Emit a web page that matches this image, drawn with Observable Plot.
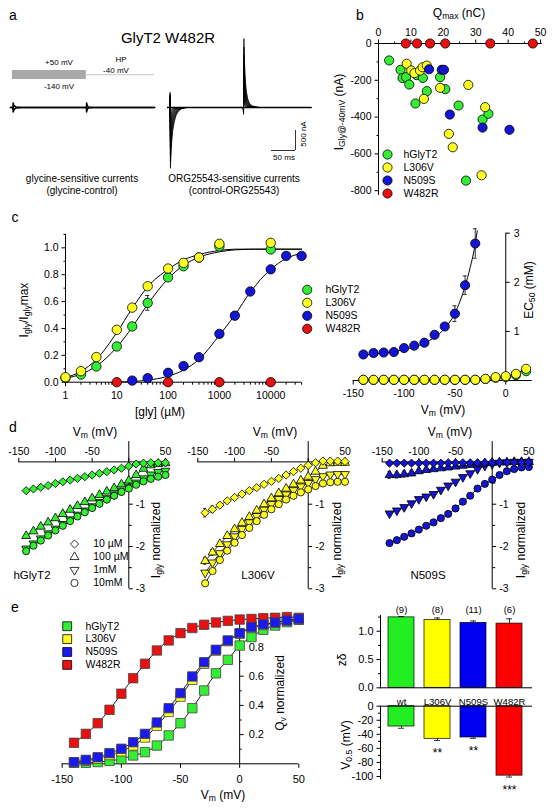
<!DOCTYPE html>
<html><head><meta charset="utf-8">
<script src="https://cdn.jsdelivr.net/npm/d3@7"></script>
<script src="https://cdn.jsdelivr.net/npm/@observablehq/plot@0.6"></script>
<style>
html,body{margin:0;padding:0;background:#fff;}
#root{position:relative;width:555px;height:810px;overflow:hidden;font-family:Arial,"Liberation Sans",Helvetica,sans-serif;color:#000;background:#fff;}
#root svg{position:absolute;left:0;top:0;overflow:visible;background:transparent !important;max-width:none !important;}
.lbl{position:absolute;white-space:nowrap;line-height:1;}
.sub{font-size:0.72em;vertical-align:-0.3em;}
</style></head><body><div id="root"></div>
<script>
// ---------------- DATA ----------------
const seriesNames = ["hGlyT2","L306V","N509S","W482R"];
const dotColors = ["#33ee33","#ffff22","#1414d4","#e81010"];
const barColors = ["#22ee22","#ffff00","#0000f0","#ff0000"];

// panel a (trace family, nA)
const onPeaks  = [-1520,-1340,-1170,-1010,-860,-720,-590,-470,-360,-260,-170,-90];
const offPeaks = [1720,1510,1310,1120,950,790,650,520,400,290,190,100];
const tauScale = [1.0,0.97,0.94,0.91,0.88,0.85,0.82,0.79,0.76,0.73,0.7,0.67];
const tShape   = [0,0.5,1.2,2.5,4,6,9,13,18,25,35];
const onShape  = [0,-0.25,1,0.75,0.55,0.38,0.24,0.13,0.06,0.02,0];
const offShape = [0,-0.1,1,0.65,0.42,0.25,0.13,0.06,0.025,0.008,0];
const leftOn = [-110, 110], leftOff = [110, -110];

// panel b
const qG = [3.3,6.8,7.4,8.5,9.5,11.8,13.7,11.4,14.9,19.0,20.6,24.7,32.1,33.9,27.0];
const iG = [-92,-143,-188,-183,-223,-172,-187,-326,-259,-183,-248,-337,-413,-382,-745];
const qL = [8.7,10.1,11.1,12.8,13.6,14.9,14.0,19.0,27.7,21.7,22.9,32.9,31.8];
const iL = [-110,-147,-161,-147,-129,-120,-301,-241,-225,-491,-564,-346,-716];
const qN = [15.6,19.5,20.2,22.0,32.1,40.4];
const iN = [-140,-143,-143,-386,-457,-469];
const qR = [8.4,11.9,15.9,20.6,34.5,47.6];
const iR = [0,0,0,0,0,0];
const tickBX = [0,10,20,30,40,50];
const tickBY = [0,-200,-400,-600,-800];

// panel c left
const conc = [1,2,4,10,20,40,100,200,400,1000,10000];
const crG = [0.032,0.057,0.117,0.266,0.415,0.59,0.78,0.863,0.928,1.01,0.988];
const crGe = [0,0,0,0.02,0.02,0.055,0.02,0.01,0.01,0.01,0.01];
const crL = [0.037,0.082,0.187,0.39,0.555,0.714,0.846,0.888,0.928,1.03,1.037];
const crLe = [0,0,0,0.025,0.02,0.02,0.02,0.01,0.01,0.01,0.01];
const concN = [20,40,100,200,400,1000,2000,4000,10000,20000,40000];
const crN = [0.012,0.03,0.07,0.12,0.186,0.36,0.495,0.675,0.84,0.94,0.94];
const concR = [10,100,1000,10000];
const crR = [0,0,0,0];
const fitConc = [1,2,4,10,20,40,100,200,400,1000,2000,5000,10000,40000];
const fitG = [0.03,0.06,0.12,0.26,0.41,0.58,0.77,0.87,0.93,0.97,0.985,0.99,0.99,0.99];
const fitL = [0.035,0.08,0.17,0.37,0.55,0.71,0.84,0.91,0.95,0.98,0.99,0.99,0.99,0.99];
const fitConcN = [10,20,40,100,200,400,1000,2000,4000,10000,20000,40000];
const fitN = [0.002,0.005,0.015,0.045,0.09,0.17,0.35,0.50,0.67,0.84,0.92,0.96];
const tickCX = [1,10,100,1000,10000];
const tickCY = [0,0.2,0.4,0.6,0.8,1.0];

// panel c right (EC50, mM)
const vmN = [-140,-130,-120,-110,-100,-90,-80,-70,-60,-50,-40,-30];
const ecN = [0.53,0.56,0.57,0.58,0.66,0.71,0.77,0.93,1.10,1.36,1.94,2.79];
const ecNe = [0.02,0.02,0.02,0.02,0.03,0.03,0.03,0.04,0.06,0.16,0.19,0.30];
const fitVmN = [-140,-120,-100,-80,-70,-60,-50,-40,-35,-30,-28];
const fitEcN = [0.52,0.56,0.63,0.76,0.88,1.06,1.37,1.92,2.30,2.78,3.05];
const vmL = [-140,-130,-120,-110,-100,-90,-80,-70,-60,-50,-40,-30,-20,-10,0,10,20];
const ecL = [0.015,0.015,0.015,0.015,0.015,0.015,0.015,0.015,0.015,0.015,0.015,0.015,0.034,0.068,0.088,0.136,0.238];
const ecG = [0.012,0.012,0.012,0.012,0.012,0.012,0.012,0.012,0.012,0.012,0.012,0.012,0.03,0.055,0.07,0.11,0.19];
const tickC2X = [-150,-100,-50,0];
const tickC2Y = [1,2,3];

// panel d (I-V, normalized)
const vm20 = [-140,-130,-120,-110,-100,-90,-80,-70,-60,-50,-40,-30,-20,-10,0,10,20,30,40,50];
const ivLegend = ["10 µM","100 µM","1mM","10mM"];
const g10  = [-0.68,-0.64,-0.60,-0.56,-0.51,-0.47,-0.43,-0.39,-0.35,-0.31,-0.27,-0.23,-0.19,-0.15,-0.10,-0.05,-0.03,-0.02,-0.02,-0.02];
const g100 = [-1.75,-1.64,-1.53,-1.43,-1.33,-1.23,-1.13,-1.04,-0.95,-0.86,-0.78,-0.70,-0.62,-0.53,-0.44,-0.31,-0.16,-0.08,-0.05,-0.03];
const g1m  = [-2.05,-1.93,-1.81,-1.69,-1.58,-1.47,-1.36,-1.25,-1.15,-1.05,-0.95,-0.86,-0.77,-0.68,-0.59,-0.49,-0.39,-0.30,-0.24,-0.21];
const g10m = [-2.11,-1.98,-1.86,-1.74,-1.62,-1.51,-1.40,-1.29,-1.19,-1.09,-0.99,-0.89,-0.80,-0.71,-0.63,-0.54,-0.46,-0.40,-0.35,-0.31];
const l10  = [-1.20,-1.12,-1.02,-0.92,-0.84,-0.76,-0.68,-0.61,-0.53,-0.46,-0.39,-0.31,-0.23,-0.15,-0.08,-0.02,0.02,0.02,0.02,0.01];
const l10e = [0.10,0.08,0.06,0.05,0.04,0.03,0.03,0.02,0.02,0.02,0.02,0.02,0.01,0.01,0.01,0.01,0.01,0.01,0.01,0.01];
const l100 = [-2.34,-2.14,-1.94,-1.75,-1.59,-1.44,-1.30,-1.15,-1.00,-0.86,-0.74,-0.63,-0.53,-0.44,-0.35,-0.23,-0.09,-0.03,-0.02,-0.02];
const l100e= [0.08,0.07,0.06,0.05,0.04,0.03,0.03,0.02,0.02,0.02,0.02,0.02,0.01,0.01,0.01,0.01,0.01,0.01,0.01,0.01];
const l1m  = [-2.62,-2.38,-2.16,-1.95,-1.76,-1.59,-1.43,-1.28,-1.13,-1.00,-0.88,-0.77,-0.67,-0.58,-0.50,-0.41,-0.34,-0.30,-0.29,-0.29];
const l10m = [-2.87,-2.58,-2.32,-2.10,-1.91,-1.73,-1.56,-1.40,-1.25,-1.12,-1.00,-0.89,-0.80,-0.72,-0.65,-0.57,-0.51,-0.48,-0.47,-0.47];
const n10  = [-0.03,-0.03,-0.03,-0.03,-0.03,-0.03,-0.03,-0.03,-0.02,-0.02,-0.02,-0.02,-0.02,-0.02,-0.01,-0.01,-0.01,-0.01,-0.01,-0.01];
const n100 = [-0.31,-0.31,-0.29,-0.27,-0.22,-0.19,-0.17,-0.15,-0.13,-0.11,-0.09,-0.07,-0.05,-0.03,-0.02,-0.01,-0.01,0,0,0];
const n100e= [0.08,0.07,0.07,0.06,0.05,0.04,0.03,0.03,0.02,0.02,0.01,0.01,0.01,0.01,0.01,0.01,0.01,0.01,0.01,0.01];
const n1m  = [-1.22,-1.15,-1.07,-0.98,-0.88,-0.82,-0.76,-0.66,-0.56,-0.47,-0.36,-0.27,-0.17,-0.09,-0.05,-0.02,-0.01,0,0,0];
const n10m = [-1.92,-1.85,-1.77,-1.69,-1.60,-1.51,-1.43,-1.33,-1.23,-1.10,-0.94,-0.80,-0.63,-0.52,-0.42,-0.31,-0.22,-0.17,-0.13,-0.12];
const zeros20 = [0,0,0,0,0,0,0,0,0,0,0,0,0,0,0,0,0,0,0,0];
const tickDX = [-150,-100,-50,50];
const tickDY = [-1,-2,-3];

// panel e (Qv normalized)
const qvG = [0.007,0.007,0.012,0.02,0.033,0.057,0.08,0.125,0.194,0.278,0.381,0.502,0.62,0.712,0.81,0.868,0.918,0.947,0.97,0.986];
const qvL = [0.008,0.02,0.035,0.06,0.085,0.125,0.18,0.26,0.355,0.46,0.575,0.685,0.775,0.84,0.89,0.93,0.95,0.965,0.98,0.99];
const qvN = [0.011,0.027,0.045,0.073,0.103,0.148,0.205,0.283,0.381,0.484,0.598,0.696,0.781,0.845,0.895,0.936,0.955,0.968,0.982,0.993];
const qvR = [0.144,0.205,0.278,0.37,0.48,0.586,0.685,0.776,0.845,0.895,0.93,0.952,0.968,0.979,0.988,0.992,0.997,1.0,1.005,1.0];
const qvRe = [0.025,0.025,0.025,0.025,0.02,0.015,0.01,0.01,0.01,0.01,0.01,0.01,0.01,0.01,0.01,0.01,0.01,0.01,0.01,0.01];
const tickEX = [-150,-100,-50,0,50];
const tickEY = [0.2,0.4,0.6,0.8];

// bars
const cats = ["wt","L306V","N509S","W482R"];
const zdelta = [1.245,1.20,1.147,1.135];
const zdeltaErr = [0.015,0.035,0.035,0.085];
const nCells = ["(9)","(8)","(11)","(6)"];
const v05 = [-28.9,-46.4,-44.5,-98.8];
const v05Err = [2.5,2.5,1.2,2.0];
const sig = ["","**","**","***"];
const tickZ = [0,0.5,1.0];
const tickV = [0,-20,-40,-60,-80,-100];

// ---------------- HELPERS ----------------
const W = 555, H = 810;
const FONT = 'Arial, "Liberation Sans", Helvetica, sans-serif';
const TS = 10.5;
const root = document.getElementById("root");
const fmt0 = d => String(d);
const fmt1 = d => d.toFixed(1);
const tk = (dx, dy) => ({draw(c){ c.moveTo(0,0); c.lineTo(dx,dy); }});
const invTri = {draw(c, size){ const s3 = Math.sqrt(3); const y = Math.sqrt(size/(s3*3)); c.moveTo(0, y*2); c.lineTo(-s3*y, -y); c.lineTo(s3*y, -y); c.closePath(); }};

function page(opts){
  const o = Object.assign({width:W, height:H, margin:0,
    style:{background:"transparent", fontFamily:FONT, fontSize:TS+"px", overflow:"visible"},
    color:{type:"identity"}}, opts);
  o.x = Object.assign({}, opts.x, {axis:null});
  o.y = Object.assign({}, opts.y, {axis:null});
  const svg = Plot.plot(o);
  root.append(svg);
  return svg;
}
function lbl(html, x, y, o = {}){
  const d = document.createElement("div");
  d.className = "lbl";
  d.innerHTML = html;
  d.style.fontSize = (o.size || 12) + "px";
  d.style.left = x + "px"; d.style.top = y + "px";
  const tx = (o.anchor || "middle") === "middle" ? "-50%" : (o.anchor === "start" ? "0" : "-100%");
  d.style.transform = `translate(${tx},-50%) rotate(${o.rot || 0}deg)`;
  root.append(d);
}
const S = "<span class='sub'>", E = "</span>";
const rows = (xs, ys, es) => xs.map((x,i) => ({x, y: ys[i], e: es ? es[i] : 0}));
const K = {stroke:"black", strokeWidth:1, fill:"none"};

// ---------------- PANEL a ----------------
const ON = 5, OFF = 158, DUR = 300, RIGHT0 = 327;
function trace(offset, onAmp, offAmp, k, ts){
  const p = [{t:offset, v:0, k}];
  tShape.forEach((s,i) => p.push({t:offset+ON+s*ts, v:onAmp*onShape[i], k}));
  tShape.forEach((s,i) => p.push({t:offset+OFF+s*ts, v:offAmp*offShape[i], k}));
  p.push({t:offset+DUR, v:0, k});
  return p;
}
const leftTraces = leftOn.flatMap((a,i) => trace(0, a, leftOff[i], "L"+i, 0.5));
const rightTraces = onPeaks.flatMap((a,i) => trace(RIGHT0, a, offPeaks[i], "R"+i, tauScale[i]));
const ax = {domain:[-20.83, 645.83], range:[0,320]};
page({x:ax, y:{domain:[-1700,2050], range:[175,25]}, marks:[
  Plot.line(leftTraces, {x:"t", y:"v", z:"k", stroke:"black", strokeWidth:1.6}),
  Plot.line(rightTraces, {x:"t", y:"v", z:"k", stroke:"black", strokeWidth:0.75, curve:"linear"}),
  Plot.ruleY([0], {x1:RIGHT0, x2:RIGHT0+DUR, stroke:"black", strokeWidth:1.4}),
  // scale bar 50 ms / 500 nA
  Plot.ruleY([-1075], {x1:543.75, x2:593.75, stroke:"black", strokeWidth:0.8}),
  Plot.ruleX([593.75], {y1:-1075, y2:-575, stroke:"black", strokeWidth:0.8})
]});
// voltage protocol
page({x:ax, y:{domain:[-266.7,261.1], range:[85,60]}, marks:[
  Plot.rect([0], {x1:ON-1, x2:OFF, y1:-140, y2:50, fill:"#a9a9a9"}),
  Plot.ruleY([-40], {x1:OFF, x2:DUR, stroke:"#c4c4c4", strokeWidth:1})
]});

// ---------------- PANEL b ----------------
page({x:{domain:[0,50.5], range:[378,541.7]}, y:{domain:[-826,0], range:[195,43]}, marks:[
  Plot.ruleY([0], {x1:0, x2:50.5, stroke:"black"}),
  Plot.ruleX([0], {y1:-826, y2:0, stroke:"black"}),
  Plot.dot(tickBX, {x:d=>d, y:0, symbol:tk(0,-4), ...K}),
  Plot.dot([5,15,25,35,45], {x:d=>d, y:0, symbol:tk(0,-2), ...K}),
  Plot.text(tickBX, {x:d=>d, y:0, dy:-11, text:fmt0, fontSize:TS}),
  Plot.dot(tickBY, {x:0, y:d=>d, symbol:tk(-4,0), ...K}),
  Plot.dot([-100,-300,-500,-700], {x:0, y:d=>d, symbol:tk(-2,0), ...K}),
  Plot.text(tickBY, {x:0, y:d=>d, dx:-7, textAnchor:"end", text:fmt0, fontSize:TS}),
  Plot.dot(rows(qG,iG), {x:"x", y:"y", r:4.6, fill:dotColors[0], stroke:"black", strokeWidth:0.8}),
  Plot.dot(rows(qL,iL), {x:"x", y:"y", r:4.6, fill:dotColors[1], stroke:"black", strokeWidth:0.8}),
  Plot.dot(rows(qN,iN), {x:"x", y:"y", r:4.6, fill:dotColors[2], stroke:"black", strokeWidth:0.8}),
  Plot.dot(rows(qR,iR), {x:"x", y:"y", r:4.6, fill:dotColors[3], stroke:"black", strokeWidth:0.8})
]});

// ---------------- PANEL c left ----------------
const minorC = [];
for (let p = 1; p <= 10000; p *= 10) for (let m = 2; m <= 9; m++) if (p*m <= 40000) minorC.push(p*m);
const errMarks = (data, fx) => [
  Plot.ruleX(data.filter(d=>d.e>0), {x:"x", y1:d=>d.y-d.e, y2:d=>d.y+d.e, stroke:"black", strokeWidth:0.8}),
  Plot.ruleY(data.filter(d=>d.e>0), {y:d=>d.y+d.e, x1:d=>fx(d.x,-1), x2:d=>fx(d.x,1), stroke:"black", strokeWidth:0.8}),
  Plot.ruleY(data.filter(d=>d.e>0), {y:d=>d.y-d.e, x1:d=>fx(d.x,-1), x2:d=>fx(d.x,1), stroke:"black", strokeWidth:0.8})
];
const logCap = (x,s) => x * Math.pow(1.1, s);
page({x:{type:"log", domain:[1,40000], range:[65,301.1]}, y:{domain:[0,1.1], range:[381.7,233.9]}, marks:[
  Plot.ruleY([0], {x1:1, x2:40000, stroke:"black"}),
  Plot.ruleX([1], {y1:0, y2:1.1, stroke:"black"}),
  Plot.dot(tickCX, {x:d=>d, y:0, symbol:tk(0,4), ...K}),
  Plot.dot(minorC, {x:d=>d, y:0, symbol:tk(0,2.5), ...K}),
  Plot.text(tickCX, {x:d=>d, y:0, dy:13, text:fmt0, fontSize:TS}),
  Plot.dot(tickCY, {x:1, y:d=>d, symbol:tk(-4,0), ...K}),
  Plot.dot([0.1,0.3,0.5,0.7,0.9,1.1], {x:1, y:d=>d, symbol:tk(-2,0), ...K}),
  Plot.text(tickCY, {x:1, y:d=>d, dx:-7, textAnchor:"end", text:fmt1, fontSize:TS}),
  Plot.line(rows(fitConc, fitG), {x:"x", y:"y", stroke:"black", strokeWidth:1, curve:"monotone-x"}),
  Plot.line(rows(fitConc, fitL), {x:"x", y:"y", stroke:"black", strokeWidth:1, curve:"monotone-x"}),
  Plot.line(rows(fitConcN, fitN), {x:"x", y:"y", stroke:"black", strokeWidth:1, curve:"monotone-x"}),
  ...errMarks(rows(conc, crG, crGe), logCap),
  ...errMarks(rows(conc, crL, crLe), logCap),
  Plot.dot(rows(conc, crG), {x:"x", y:"y", r:4.7, fill:dotColors[0], stroke:"black", strokeWidth:0.8}),
  Plot.dot(rows(conc, crL), {x:"x", y:"y", r:4.7, fill:dotColors[1], stroke:"black", strokeWidth:0.8}),
  Plot.dot(rows(concN, crN), {x:"x", y:"y", r:4.7, fill:dotColors[2], stroke:"black", strokeWidth:0.8}),
  Plot.dot(rows(concR, crR), {x:"x", y:"y", r:4.7, fill:dotColors[3], stroke:"black", strokeWidth:0.8})
]});

// ---------------- PANEL c right ----------------
const linCap = w => (x,s) => x + s*w;
page({x:{domain:[-150,26], range:[352.7,531.7]}, y:{domain:[0,3], range:[380,232.7]}, marks:[
  Plot.ruleY([0], {x1:-150, x2:26, stroke:"black"}),
  Plot.ruleX([0], {y1:0, y2:3, stroke:"black"}),
  Plot.dot(tickC2X, {x:d=>d, y:0, symbol:tk(0,4), ...K}),
  Plot.text(tickC2X, {x:d=>d, y:0, dy:13, text:fmt0, fontSize:TS}),
  Plot.dot(tickC2Y, {x:0, y:d=>d, symbol:tk(4,0), ...K}),
  Plot.text(tickC2Y, {x:0, y:d=>d, dx:8, textAnchor:"start", text:fmt0, fontSize:TS}),
  Plot.line(rows(fitVmN, fitEcN), {x:"x", y:"y", stroke:"black", strokeWidth:1, curve:"monotone-x"}),
  ...errMarks(rows(vmN, ecN, ecNe), linCap(2)),
  Plot.line(rows(vmL, ecL), {x:"x", y:"y", stroke:"black", strokeWidth:0.8}),
  Plot.dot(rows(vmL, ecG), {x:"x", y:"y", r:4.6, fill:dotColors[0], stroke:"black", strokeWidth:0.8}),
  Plot.dot(rows(vmL, ecL), {x:"x", y:"y", r:4.6, fill:dotColors[1], stroke:"black", strokeWidth:0.8}),
  Plot.dot(rows(vmN, ecN), {x:"x", y:"y", r:4.6, fill:dotColors[2], stroke:"black", strokeWidth:0.8})
]});

// ---------------- PANEL d ----------------
const symD = ["diamond2", "triangle", invTri, "circle"];
const rD = [3.7, 3.3, 3.3, 3.6];
function ivPanel(x150, x0, col, series, errs){
  const k = (x0 - x150) / 150;
  const marks = [
    Plot.ruleY([0], {x1:-150, x2:55, stroke:"black"}),
    Plot.ruleX([0], {y1:-3, y2:0.48, stroke:"black"}),
    Plot.dot([-150,-100,-50,0,50], {x:d=>d, y:0, symbol:tk(0,-4), ...K}),
    Plot.text(tickDX, {x:d=>d, y:0, dy:-10, text:fmt0, fontSize:TS}),
    Plot.dot([-3,-2,-1], {x:0, y:d=>d, symbol:tk(4,0), ...K}),
    Plot.dot([-2.5,-1.5,-0.5], {x:0, y:d=>d, symbol:tk(3,0), ...K}),
    Plot.text(tickDY, {x:0, y:d=>d, dx:7, textAnchor:"start", text:fmt0, fontSize:TS})
  ];
  const order = [2, 3, 1, 0];
  series.forEach(s => marks.push(Plot.line(rows(vm20, s), {x:"x", y:"y", stroke:"black", strokeWidth:0.8})));
  series.forEach((s,i) => marks.push(...errMarks(rows(vm20, s, errs[i]), linCap(2.2))));
  order.forEach(i => marks.push(Plot.dot(rows(vm20, series[i]), {x:"x", y:"y", r:rD[i], symbol:symD[i], fill:col, stroke:"black", strokeWidth:0.8})));
  page({x:{domain:[-150,55], range:[x150, x0 + 55*k]}, y:{domain:[-3,0.48], range:[588.3,441.1]}, marks});
}
ivPanel(18.3, 128.3, dotColors[0], [g10,g100,g1m,g10m], [zeros20,zeros20,zeros20,zeros20]);
ivPanel(197.3, 307.7, dotColors[1], [l10,l100,l1m,l10m], [l10e,l100e,zeros20,zeros20]);
ivPanel(381.7, 491.7, dotColors[2], [n10,n100,n1m,n10m], [zeros20,n100e,zeros20,zeros20]);

// ---------------- PANEL e left ----------------
page({x:{domain:[-150,50], range:[61.7,298.3]}, y:{domain:[0,1], range:[763.3,617.3]}, marks:[
  Plot.ruleY([0], {x1:-150, x2:50, stroke:"black"}),
  Plot.ruleX([0], {y1:0, y2:1.004, stroke:"black"}),
  Plot.dot(tickEX, {x:d=>d, y:0, symbol:tk(0,4), ...K}),
  Plot.text(tickEX, {x:d=>d, y:0, dy:16, text:fmt0, fontSize:TS+0.5}),
  Plot.dot([0.2,0.4,0.6,0.8,1.0], {x:0, y:d=>d, symbol:tk(4,0), ...K}),
  Plot.dot([0.1,0.3,0.5,0.7,0.9], {x:0, y:d=>d, symbol:tk(2,0), ...K}),
  Plot.text(tickEY, {x:0, y:d=>d, dx:9, textAnchor:"start", text:fmt1, fontSize:TS+0.5}),
  Plot.line(rows(vm20, qvG), {x:"x", y:"y", stroke:"black", strokeWidth:0.9, curve:"monotone-x"}),
  Plot.line(rows(vm20, qvL), {x:"x", y:"y", stroke:"black", strokeWidth:0.9, curve:"monotone-x"}),
  Plot.line(rows(vm20, qvN), {x:"x", y:"y", stroke:"black", strokeWidth:0.9, curve:"monotone-x"}),
  Plot.line(rows(vm20, qvR), {x:"x", y:"y", stroke:"black", strokeWidth:0.9, curve:"monotone-x"}),
  ...errMarks(rows(vm20, qvR, qvRe), linCap(2)),
  Plot.dot(rows(vm20, qvG), {x:"x", y:"y", r:5.3, symbol:"square", fill:dotColors[0], stroke:"#444", strokeWidth:0.8}),
  Plot.dot(rows(vm20, qvL), {x:"x", y:"y", r:5.3, symbol:"square", fill:dotColors[1], stroke:"#444", strokeWidth:0.8}),
  Plot.dot(rows(vm20, qvR), {x:"x", y:"y", r:5.3, symbol:"square", fill:dotColors[3], stroke:"#444", strokeWidth:0.8}),
  Plot.dot(rows(vm20, qvN), {x:"x", y:"y", r:5.3, symbol:"square", fill:"#1a1aee", stroke:"#444", strokeWidth:0.8})
]});

// ---------------- PANEL e bars ----------------
const barRows = cats.map((c,i) => ({c, z:zdelta[i], ze:zdeltaErr[i], n:nCells[i], v:v05[i], ve:v05Err[i], s:sig[i], col:barColors[i]}));
const bandX = {type:"band", domain:cats, range:[386,523.3], paddingInner:0.276, paddingOuter:0};
page({marginLeft:380, marginRight:24, marginTop:614.9, marginBottom:H-687.3,
  x:bandX, y:{domain:[0,1.28]}, marks:[
  Plot.barY(barRows, {x:"c", y:"z", fill:"col", stroke:"black", strokeWidth:0.7}),
  Plot.ruleX(barRows, {x:"c", y1:"z", y2:d=>d.z+d.ze, stroke:"black", strokeWidth:0.8}),
  Plot.tickY(barRows, {x:"c", y:d=>d.z+d.ze, insetLeft:10, insetRight:10, stroke:"black", strokeWidth:0.8}),
  Plot.frame({anchor:"left"}),
  Plot.frame({anchor:"bottom"}),
  Plot.dot(tickZ, {y:d=>d, frameAnchor:"left", symbol:tk(-4,0), ...K}),
  Plot.dot([0.25,0.75,1.25], {y:d=>d, frameAnchor:"left", symbol:tk(-2.5,0), ...K}),
  Plot.text(tickZ, {y:d=>d, frameAnchor:"left", dx:-7, textAnchor:"end", text:fmt1, fontSize:TS+0.5}),
  Plot.text(barRows, {x:"c", frameAnchor:"top", dy:-9, text:"n", fontSize:TS-1})
]});
page({marginLeft:380, marginRight:24, marginTop:705.7, marginBottom:H-778.1,
  x:bandX, y:{domain:[-103,0]}, marks:[
  Plot.barY(barRows, {x:"c", y:"v", fill:"col", stroke:"black", strokeWidth:0.7}),
  Plot.ruleX(barRows, {x:"c", y1:"v", y2:d=>d.v-d.ve, stroke:"black", strokeWidth:0.8}),
  Plot.tickY(barRows, {x:"c", y:d=>d.v-d.ve, insetLeft:10, insetRight:10, stroke:"black", strokeWidth:0.8}),
  Plot.frame({anchor:"left"}),
  Plot.frame({anchor:"top"}),
  Plot.dot(tickV, {y:d=>d, frameAnchor:"left", symbol:tk(-4,0), ...K}),
  Plot.dot([-10,-30,-50,-70,-90], {y:d=>d, frameAnchor:"left", symbol:tk(-2.5,0), ...K}),
  Plot.text(tickV, {y:d=>d, frameAnchor:"left", dx:-7, textAnchor:"end", text:fmt0, fontSize:TS+0.5}),
  Plot.text(barRows, {x:"c", frameAnchor:"top", dy:-8, text:"c", fontSize:9.6}),
  Plot.text(barRows, {x:"c", y:d=>d.v-d.ve, dy:13, text:"s", fontSize:12})
]});

// ---------------- LEGENDS ----------------
function legend(names, fills, x, y0, dy, tx, symbol, r, fs){
  const lr = names.map((n,i) => ({n, f: fills[i], sy: symbol[i], r: r[i], y: y0 + i*dy}));
  const marks = lr.map(d => Plot.dot([d], {x:x, y:"y", r:d.r, symbol:d.sy, fill:d.f, stroke:"black", strokeWidth:0.8}));
  marks.push(Plot.text(lr, {x:tx, y:"y", text:"n", textAnchor:"start", fontSize:fs}));
  page({x:{type:"identity"}, y:{type:"identity"}, marks});
}
const circ4 = ["circle","circle","circle","circle"], sq4 = ["square","square","square","square"];
legend(seriesNames, dotColors, 387, 154, 13, 403, circ4, [4.6,4.6,4.6,4.6], 10.5);
legend(seriesNames, dotColors, 306.7, 289.3, 13, 325, circ4, [4.6,4.6,4.6,4.6], 10.5);
legend(ivLegend, ["white","white","white","white"], 74, 543.5, 13, 92.7, symD, rD, 10.5);
legend(seriesNames, [dotColors[0],dotColors[1],"#1a1aee",dotColors[3]], 66.7, 625.7, 12.9, 85, sq4, [5,5,5,5], 10.5);

// ---------------- TEXT ----------------
lbl("a", 13, 15, {size:14}); lbl("b", 360, 15, {size:14}); lbl("c", 15, 217, {size:14});
lbl("d", 13, 427, {size:14}); lbl("e", 15, 607, {size:14});
lbl("GlyT2 W482R", 168, 37, {size:15});
lbl("+50 mV", 59, 63, {size:8}); lbl("-140 mV", 59, 87, {size:8});
lbl("HP", 121, 60, {size:8}); lbl("-40 mV", 116, 71, {size:8});
lbl("glycine-sensitive currents", 82, 179, {size:10}); lbl("(glycine-control)", 82, 191, {size:10});
lbl("ORG25543-sensitive currents", 234, 179, {size:10}); lbl("(control-ORG25543)", 234, 191, {size:10});
lbl("500 nA", 304, 134, {size:8, rot:-90}); lbl("50 ms", 284, 158, {size:8});
lbl(`Q${S}max${E} (nC)`, 459, 14, {size:12});
lbl(`I${S}Gly@-40mV${E} (nA)`, 340, 112, {size:12, rot:-90});
lbl(`I${S}gly${E}/I${S}gly${E}max`, 25, 310, {size:12, rot:-90});
lbl("[gly] (µM)", 160, 412, {size:12});
lbl(`EC${S}50${E} (mM)`, 530, 290, {size:12, rot:-90});
lbl(`V${S}m${E} (mV)`, 443, 411, {size:12});
[95, 275, 450].forEach(x => lbl(`V${S}m${E} (mV)`, x, 433, {size:12}));
[157, 338, 522].forEach(x => lbl(`I${S}gly${E} normalized`, x, 540, {size:12, rot:-90}));
lbl("hGlyT2", 32, 576, {size:11.5}); lbl("L306V", 258, 576, {size:11.5}); lbl("N509S", 428, 576, {size:11.5});
lbl(`V${S}m${E} (mV)`, 223, 796, {size:12});
lbl(`Q${S}v${E} normalized`, 281, 693, {size:12, rot:-90});
lbl("zδ", 342, 660, {size:12, rot:-90});
lbl(`V${S}0.5${E} (mV)`, 347, 745, {size:12, rot:-90});
</script></body></html>
